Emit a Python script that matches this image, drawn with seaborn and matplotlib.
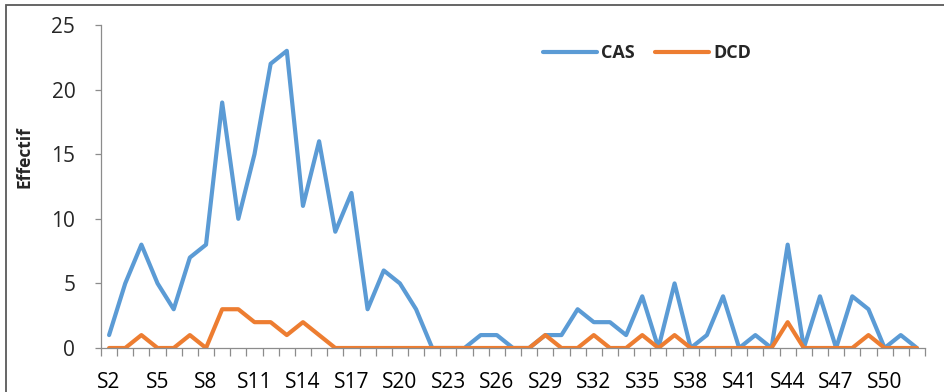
import matplotlib
matplotlib.use("Agg")
import matplotlib.pyplot as plt
from matplotlib.patches import Rectangle
from matplotlib.ticker import FixedLocator
import numpy as np
import pandas as pd
import seaborn as sns

# Weekly counts (epidemiological weeks S2..S52)
weeks = ["S%d" % w for w in range(2, 53)]
cas = [1, 5, 8, 5, 3, 7, 8, 19, 10, 15, 22, 23, 11, 16, 9, 12, 3, 6, 5, 3,
       0, 0, 0, 1, 1, 0, 0, 1, 1, 3, 2, 2, 1, 4, 0, 5, 0, 1, 4, 0,
       1, 0, 8, 0, 4, 0, 4, 3, 0, 1, 0]
dcd = [0, 0, 1, 0, 0, 1, 0, 3, 3, 2, 2, 1, 2, 1, 0, 0, 0, 0, 0, 0,
       0, 0, 0, 0, 0, 0, 0, 1, 0, 0, 1, 0, 0, 1, 0, 1, 0, 0, 0, 0,
       0, 0, 2, 0, 0, 0, 0, 1, 0, 0, 0]
series_names = ["CAS", "DCD"]
series_colors = ["#5B9BD5", "#ED7D31"]
y_ticks = [0, 5, 10, 15, 20, 25]

idx = np.arange(len(weeks))
df = pd.DataFrame({
    "pos": np.concatenate([idx, idx]),
    "Effectif": cas + dcd,
    "serie": [series_names[0]] * len(weeks) + [series_names[1]] * len(weeks),
})

sns.set_theme(style="white")
plt.rcParams["font.family"] = ["Open Sans", "DejaVu Sans"]

W, H = 944, 392
fig = plt.figure(figsize=(W / 100, H / 100), dpi=100)
ax = fig.add_axes([101 / W, 1 - 348 / H, (925 - 101) / W, (348 - 25) / H])

sns.lineplot(data=df, x="pos", y="Effectif", hue="serie",
             palette=dict(zip(series_names, series_colors)),
             linewidth=3.0, ax=ax, legend=True)
for ln in ax.get_lines():
    ln.set_solid_joinstyle("round")
    ln.set_solid_capstyle("round")

ax.set_xlim(-0.5, len(weeks) - 0.5)
ax.set_ylim(0, 25)

# category labels every third week, tick marks between categories
lab_pos = idx[::3]
ax.set_xticks(lab_pos)
ax.set_xticklabels([weeks[i] for i in lab_pos])
ax.xaxis.set_minor_locator(FixedLocator(np.arange(-0.5, len(weeks), 1.0)))
ax.tick_params(axis="x", which="major", length=0, pad=17, labelsize=15, colors="#000000")
ax.tick_params(axis="x", which="minor", length=5.5, width=0.9, color="#8c8c8c", direction="out", bottom=True)

ax.set_yticks(y_ticks)
ax.tick_params(axis="y", which="major", length=4.5, width=0.9, color="#8c8c8c", direction="out",
               pad=14, labelsize=15, left=True)

for s in ["top", "right"]:
    ax.spines[s].set_visible(False)
for s in ["left", "bottom"]:
    ax.spines[s].set_color("#8c8c8c")
    ax.spines[s].set_linewidth(0.9)

ax.set_xlabel("")
ax.set_ylabel("Effectif", fontsize=12.5, fontweight="bold")
ax.yaxis.set_label_coords((34 - 101) / 824, (348 - 157) / 323)

leg = ax.legend(loc="center", bbox_to_anchor=(647 / W, 1 - 53 / H),
                bbox_transform=fig.transFigure, ncol=2, frameon=False,
                handlelength=3.0, handletextpad=0.25, columnspacing=1.1,
                prop={"size": 13, "weight": "bold"})
for h in leg.get_lines():
    h.set_linewidth(3.0)
    h.set_solid_capstyle("round")

# chart-area border
fig.patches.append(Rectangle((6 / W, -0.5), 2, 1.5 - 5 / H, transform=fig.transFigure,
                             fill=False, edgecolor="#595959", linewidth=1.3))

fig.savefig("out.png", dpi=100)
